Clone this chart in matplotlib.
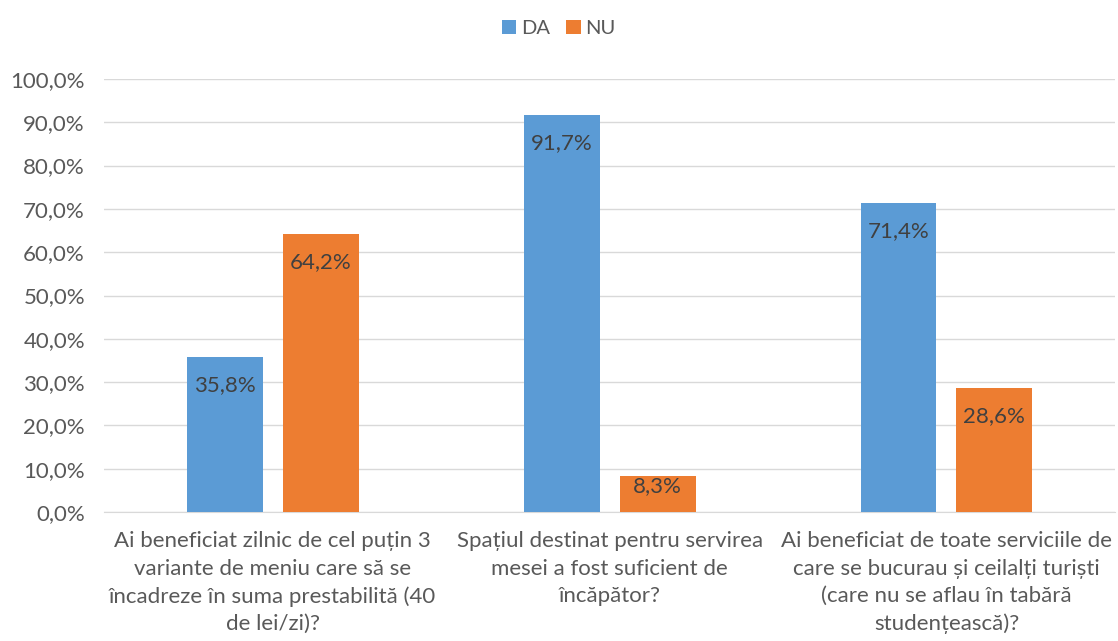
import matplotlib.pyplot as plt
import numpy as np

categories = [
    "Ai beneficiat zilnic de cel puțin 3\nvariante de meniu care să se\nîncadreze în suma prestabilită (40\nde lei/zi)?",
    "Spațiul destinat pentru servirea\nmesei a fost suficient de\nîncăpător?",
    "Ai beneficiat de toate serviciile de\ncare se bucurau și ceilalți turiști\n(care nu se aflau în tabără\nstudențească)?",
]
da_values = [35.8, 91.7, 71.4]
nu_values = [64.2, 8.3, 28.6]

plt.rcParams['font.family'] = ['Lato', 'DejaVu Sans']

fig = plt.figure(figsize=(11.18, 6.41), dpi=100)
ax = fig.add_axes([0.0934, 0.2012, 0.9038, 0.6756])

x = np.arange(len(categories))
w = 0.2255
off = 0.1424
b1 = ax.bar(x - off, da_values, w, color='#5B9BD5', label='DA', zorder=3)
b2 = ax.bar(x + off, nu_values, w, color='#ED7D31', label='NU', zorder=3)

# inside-end labels; short bars get the label pulled up like Excel does
for bars, vals in ((b1, da_values), (b2, nu_values)):
    for r, v in zip(bars, vals):
        ypos = max(v - 6.5, v * 0.72)
        ax.text(r.get_x() + r.get_width() / 2, ypos, f"{v:.1f}%".replace('.', ','),
                ha='center', va='center', fontsize=16, color='#404040', zorder=4)

ax.set_xlim(-0.5, 2.5)
ax.set_ylim(0, 100)
ax.set_yticks(np.arange(0, 101, 10))
ax.set_yticklabels([f"{t:.1f}%".replace('.', ',') for t in np.arange(0, 101, 10)])
ax.set_xticks(x)
ax.set_xticklabels(categories, linespacing=1.45)
ax.tick_params(axis='both', length=0, labelsize=16, colors='#595959')
ax.tick_params(axis='x', pad=14)
ax.tick_params(axis='y', pad=14)
ax.grid(axis='y', color='#D9D9D9', linewidth=1, zorder=0)
for s in ['top', 'right', 'left']:
    ax.spines[s].set_visible(False)
ax.spines['bottom'].set_color('#D9D9D9')

fig.legend(loc='center', bbox_to_anchor=(0.5, 0.955), ncol=2, frameon=False,
           fontsize=14.5, handlelength=0.7, handleheight=0.7, handletextpad=0.25,
           columnspacing=0.8, labelcolor='#595959')

fig.savefig('out.png', dpi=100)
